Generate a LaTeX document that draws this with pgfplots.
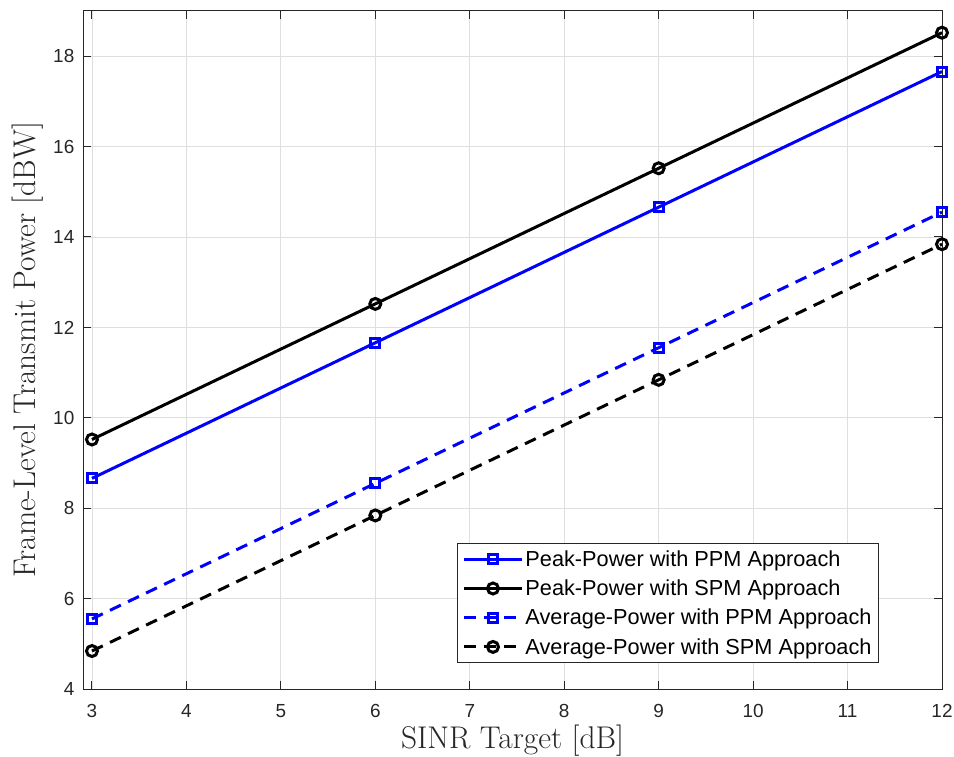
\documentclass[border=0pt]{standalone}
\usepackage{pgfplots}
\pgfplotsset{compat=1.18}
\usepackage{fontspec}
\newfontfamily\arial{Liberation Sans}
\definecolor{axgray}{RGB}{38,38,38}
\definecolor{gridgray}{RGB}{223,223,223}
\begin{document}
\begin{tikzpicture}
\begin{axis}[
  scale only axis,
  width=859bp, height=678bp,
  xmin=2.905, xmax=12, ymin=4, ymax=19,
  xtick={3,4,...,12}, ytick={4,6,...,18},
  grid=major,
  major grid style={color=gridgray, line width=0.9bp},
  axis line style={color=axgray, line width=1bp},
  tick style={color=axgray, line width=1bp},
  major tick length=8bp,
  tick pos=both, tick align=inside,
  /pgf/number format/assume math mode=true,
  ticklabel style={font=\arial\fontsize{19}{19}\selectfont, text=axgray, inner sep=0.5bp},
  xticklabel style={yshift=-15bp},
  yticklabel style={xshift=-8bp},
  xlabel={SINR Target [dB]},
  ylabel={Frame-Level Transmit Power [dBW]},
  label style={font=\fontsize{31.5}{31.5}\selectfont, text=axgray, inner sep=0bp},
  xlabel style={at={(axis description cs:0.5,-0.076)}, anchor=center},
  ylabel style={at={(axis description cs:-0.064,0.5)}, anchor=center},
  legend style={at={(rel axis cs:0.9267,0.0383)}, anchor=south east,
    font=\arial\fontsize{21.8}{21.8}\selectfont, draw=axgray, line width=1bp,
    inner sep=5bp, row sep=8bp, fill=white},
  legend cell align=left,
  legend image code/.code={\draw[mark repeat=2,mark phase=2] plot coordinates {(0bp,0bp)(29bp,0bp)(58bp,0bp)};},
  every axis plot/.append style={line width=3bp},
]
\addplot[color=blue, mark=square, mark size=4.5bp, mark options={solid}] coordinates {(3,8.66) (6,11.66) (9,14.66) (12,17.66)};
\addlegendentry{Peak-Power with PPM Approach}
\addplot[color=black, mark=o, mark size=5.5bp, mark options={solid}] coordinates {(3,9.52) (6,12.52) (9,15.52) (12,18.52)};
\addlegendentry{Peak-Power with SPM Approach}
\addplot[color=blue, dash pattern=on 12bp off 8bp, mark=square, mark size=4.5bp, mark options={solid}] coordinates {(3,5.55) (6,8.55) (9,11.55) (12,14.55)};
\addlegendentry{Average-Power with PPM Approach}
\addplot[color=black, dash pattern=on 12bp off 8bp, mark=o, mark size=5.5bp, mark options={solid}] coordinates {(3,4.84) (6,7.84) (9,10.84) (12,13.84)};
\addlegendentry{Average-Power with SPM Approach}
\end{axis}
\path ([shift={(-83bp,-68bp)}]current axis.south west) rectangle ([shift={(12bp,11bp)}]current axis.north east);
\end{tikzpicture}
\end{document}
